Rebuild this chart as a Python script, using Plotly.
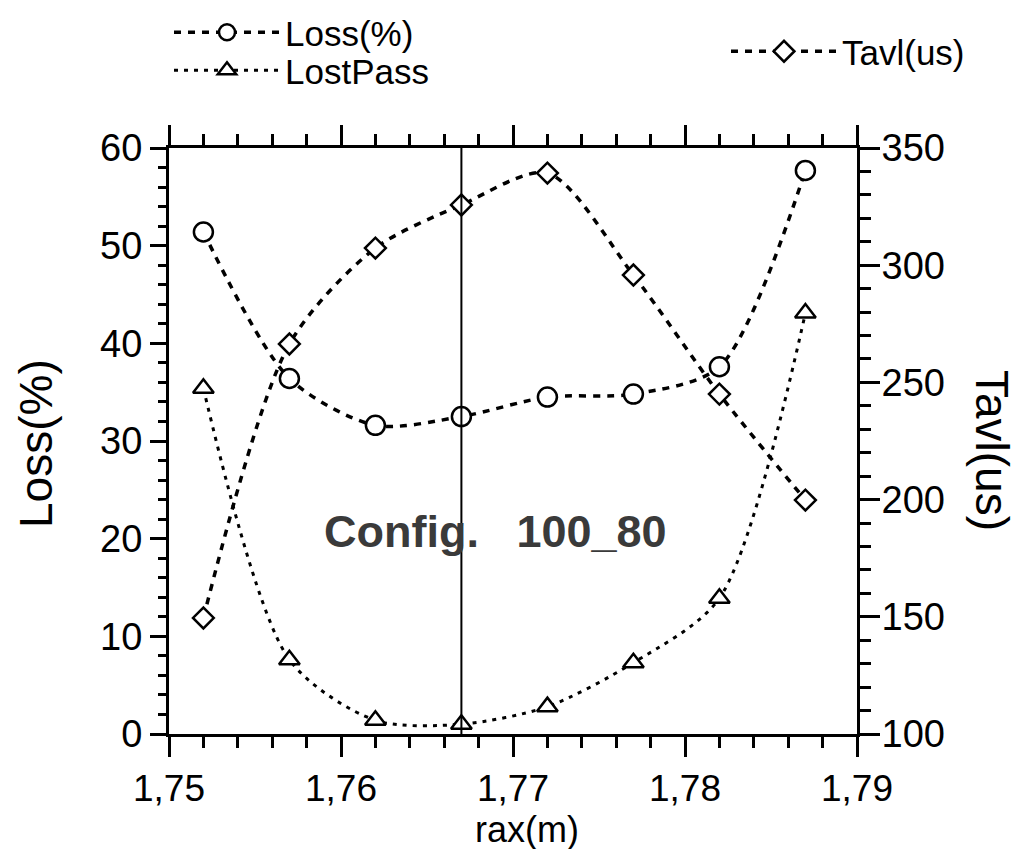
import plotly.graph_objects as go

# Measured series versus major radius
rax = [1.752, 1.757, 1.762, 1.767, 1.772, 1.777, 1.782, 1.787]
loss_pct = [51.4, 36.4, 31.6, 32.5, 34.5, 34.8, 37.6, 57.7]
lost_pass = [35.4, 7.6, 1.4, 1.0, 2.8, 7.3, 13.9, 43.1]
tavl_us = [149.5, 266.4, 307.3, 325.7, 339.3, 295.8, 245.0, 199.8]

# Reference configuration position
config_rax = 1.767
config_label = "Config.   100_80"

x_tickvals = [1.75, 1.76, 1.77, 1.78, 1.79]
x_ticktext = ["1,75", "1,76", "1,77", "1,78", "1,79"]
y_tickvals = [0, 10, 20, 30, 40, 50, 60]
y2_tickvals = [100, 150, 200, 250, 300, 350]

FONT = "Liberation Sans, Arial, Helvetica, sans-serif"
W, H = 1019, 849
ML, MR, MT, MB = 169, 162, 148, 115
PW, PH = W - ML - MR, H - MT - MB


def px(x):
    return (x - ML) / PW


def py(y):
    return (H - MB - y) / PH


fig = go.Figure()

fig.add_trace(go.Scatter(
    x=rax, y=loss_pct, name="Loss(%)", mode="lines+markers",
    line=dict(color="black", width=3.5, dash="7px,7px", shape="spline", smoothing=0.8),
    marker=dict(symbol="circle", size=19, color="white", line=dict(color="black", width=2.5)),
    legend="legend",
))
fig.add_trace(go.Scatter(
    x=rax, y=lost_pass, name="LostPass", mode="lines+markers",
    line=dict(color="black", width=3, dash="4px,6px", shape="spline", smoothing=0.8),
    marker=dict(symbol="triangle-up", size=18, color="white", line=dict(color="black", width=2.5)),
    legend="legend3",
))
fig.add_trace(go.Scatter(
    x=rax, y=tavl_us, name="Tavl(us)", mode="lines+markers", yaxis="y2",
    line=dict(color="black", width=3.5, dash="7px,7px", shape="spline", smoothing=0.8),
    marker=dict(symbol="diamond", size=16, color="white", line=dict(color="black", width=2.5)),
    legend="legend2",
))

# Vertical marker at the reference configuration
fig.add_shape(type="line", x0=config_rax, x1=config_rax, y0=0, y1=1,
              xref="x", yref="paper", line=dict(color="black", width=2), layer="above")

axis_common = dict(
    showgrid=False, zeroline=False, showline=True, linecolor="black", linewidth=3,
    ticks="outside", tickcolor="black", tickwidth=2.5,
    tickfont=dict(family=FONT, size=38, color="black"),
)

legend_common = dict(
    xanchor="left", yanchor="top", bgcolor="rgba(0,0,0,0)", itemwidth=106,
    font=dict(family=FONT, size=35, color="black"),
)

fig.update_layout(
    width=W, height=H,
    margin=dict(l=ML, r=MR, t=MT, b=MB, autoexpand=False),
    paper_bgcolor="white", plot_bgcolor="white",
    font=dict(family=FONT, color="black"),
    xaxis=dict(
        range=[1.75, 1.79], tickvals=x_tickvals, ticktext=x_ticktext,
        ticklen=20, mirror="ticks",
        minor=dict(dtick=0.002, ticks="outside", ticklen=11, tickwidth=2.5, tickcolor="black"),
        **{**axis_common, "tickfont": dict(family=FONT, size=37, color="black")},
    ),
    yaxis=dict(
        range=[0, 60], tickvals=y_tickvals, ticklen=16,
        minor=dict(dtick=2, ticks="outside", ticklen=8, tickwidth=2.5, tickcolor="black"),
        **axis_common,
    ),
    yaxis2=dict(
        range=[100, 350], tickvals=y2_tickvals, ticklen=20, ticklabelstandoff=-6,
        overlaying="y", side="right",
        minor=dict(dtick=10, ticks="outside", ticklen=11, tickwidth=2.5, tickcolor="black"),
        **axis_common,
    ),
    legend=dict(x=px(169), y=py(3), **legend_common),
    legend3=dict(x=px(169), y=py(41), **legend_common),
    legend2=dict(x=px(726), y=py(22), **legend_common),
    showlegend=True,
)

annotations = [
    dict(text="Loss(%)", x=px(36), y=py(444), textangle=-90,
         font=dict(family=FONT, size=46, color="black")),
    dict(text="Tavl(us)", x=px(992), y=py(450), textangle=90,
         font=dict(family=FONT, size=46, color="black")),
    dict(text="rax(m)", x=px(527), y=py(829),
         font=dict(family=FONT, size=36, color="black")),
    dict(text="<b>" + config_label + "</b>", x=px(495), y=py(531),
         font=dict(family=FONT, size=45, color="#3a3a3a")),
]
for a in annotations:
    a.update(xref="paper", yref="paper", showarrow=False, xanchor="center", yanchor="middle")
fig.update_layout(annotations=annotations)

fig.write_html("out.html")
